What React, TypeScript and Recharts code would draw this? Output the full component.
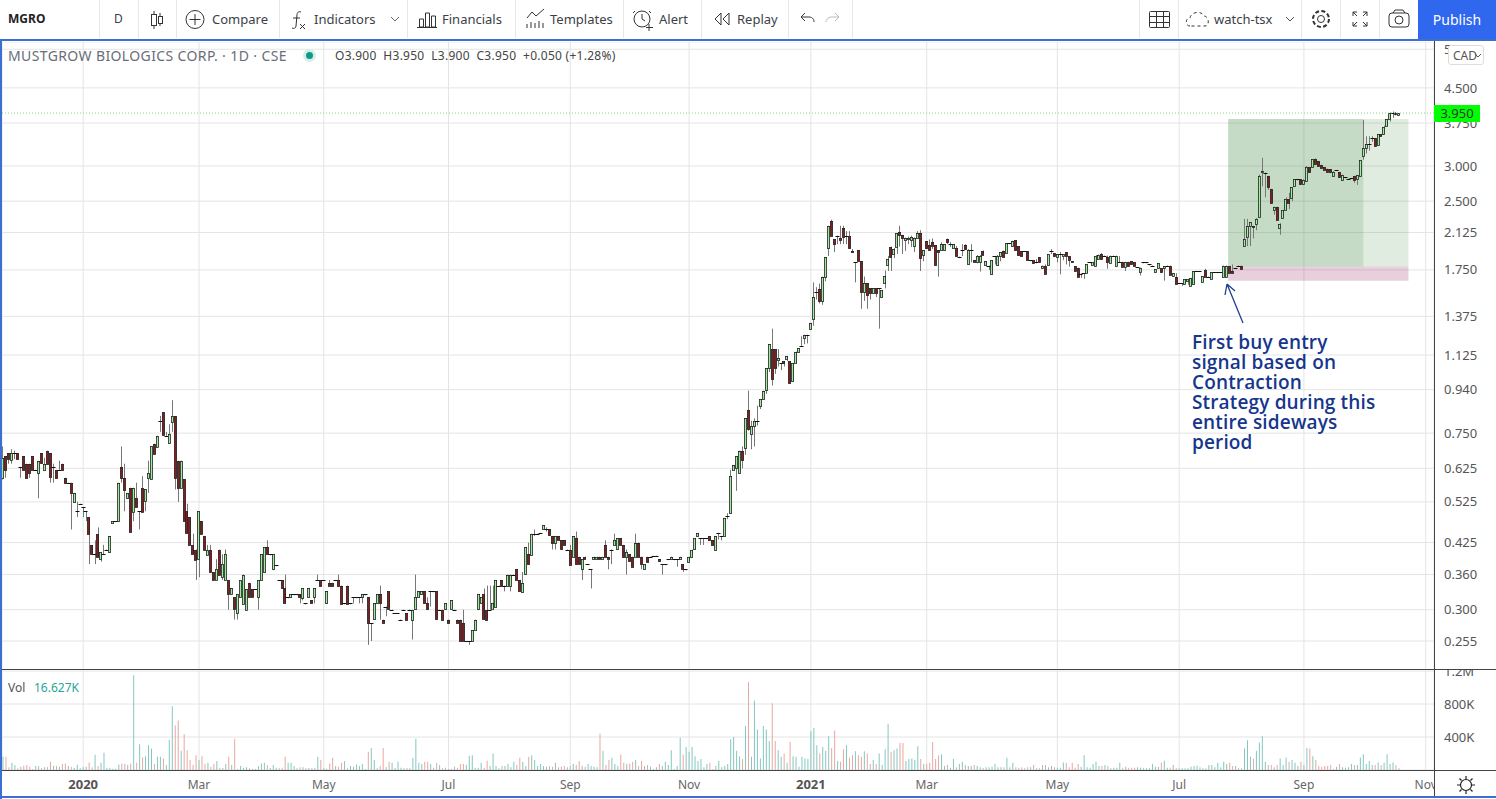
import React from 'react';
import { Bar, BarChart, CartesianGrid, Cell, ComposedChart, ReferenceArea, ReferenceLine, XAxis, YAxis } from 'recharts';

// [open, high, low, close]
const candlesEarly2020 = [
  [.595,.70,.59,.66],[.665,.665,.595,.62],[.675,.675,.64,.655],[.65,.69,.64,.675],[.675,.685,.655,.675],[.675,.675,.655,.655],[.63,.63,.595,.63],[.665,.665,.62,.62],[.64,.64,.595,.595],[.64,.64,.595,.61],
  [.665,.665,.62,.62],[.62,.62,.62,.62],[.61,.65,.535,.65],[.675,.675,.64,.64],[.62,.66,.62,.64],[.685,.685,.64,.64],[.675,.675,.58,.595],[.63,.64,.58,.63],[.62,.62,.595,.595],[.62,.65,.62,.62],
  [.64,.64,.62,.62],[.595,.595,.58,.58],[.58,.58,.58,.58],[.58,.58,.455,.55],[.525,.55,.525,.55],[.50,.525,.485,.50],[.52,.52,.52,.52],[.51,.51,.485,.51],[.50,.50,.475,.50],[.485,.485,.38,.445],
  [.42,.42,.40,.40],[.40,.43,.38,.40],[.445,.46,.395,.395],[.39,.405,.385,.405],[.40,.42,.40,.40],[.41,.41,.41,.41],[.405,.44,.405,.44],[.47,.475,.47,.475],[.475,.475,.475,.475],[.475,.58,.475,.58],
  [.63,.70,.58,.595],[.595,.64,.50,.56],[.535,.55,.535,.55],[.565,.565,.45,.45],[.50,.565,.475,.565],[.535,.58,.51,.51],[.50,.50,.455,.50],[.565,.60,.50,.50],[.525,.56,.50,.56],[.595,.65,.55,.61],
  [.59,.70,.59,.70],[.71,.71,.675,.675],[.70,.74,.70,.74],[.80,.82,.755,.80],[.835,.835,.74,.74],[.74,.755,.74,.74],[.71,.785,.71,.745],[.795,.89,.755,.82],[.82,.82,.56,.595],[.65,.65,.525,.565],
  [.565,.65,.565,.65],[.59,.59,.475,.475],[.50,.52,.445,.445],[.485,.485,.42,.42],[.42,.445,.40,.40],[.41,.41,.35,.39],[.39,.50,.355,.50],[.475,.475,.445,.445],[.44,.44,.41,.41],[.40,.42,.40,.41],
  [.41,.42,.365,.365],[.365,.365,.35,.35],[.35,.39,.35,.37],[.41,.41,.36,.36],[.355,.40,.35,.38],[.35,.41,.35,.40],[.35,.35,.30,.325],[.325,.335,.325,.335],[.32,.32,.285,.30],[.295,.325,.285,.325],
  [.32,.35,.32,.35],[.31,.36,.31,.36],[.30,.334,.30,.334],[.345,.345,.32,.32],[.334,.334,.32,.32],[.334,.334,.334,.334],[.32,.35,.30,.35],[.35,.40,.35,.40],[.365,.415,.365,.415],[.415,.43,.40,.40],
  [.40,.40,.40,.40],[.37,.40,.37,.40],[.378,.378,.378,.378],[.35,.35,.35,.35],[.35,.35,.335,.335],[.335,.36,.31,.31],[.32,.32,.32,.32],[.32,.325,.32,.325],[.325,.325,.325,.325],[.325,.325,.325,.325],
  [.325,.325,.31,.32],
];

const candlesMid2020 = [
  [.318,.335,.315,.335],[.31,.31,.31,.31],[.32,.335,.32,.335],[.315,.315,.31,.31],[.32,.335,.31,.335],[.35,.36,.35,.35],[.35,.35,.34,.34],[.35,.35,.35,.35],[.31,.33,.31,.33],[.345,.35,.34,.34],
  [.345,.345,.34,.34],[.35,.35,.35,.35],[.35,.36,.34,.34],[.34,.34,.31,.31],[.31,.31,.31,.31],[.34,.34,.31,.31],[.31,.31,.31,.31],[.32,.32,.31,.32],[.32,.32,.32,.32],[.32,.32,.31,.32],
  [.32,.325,.31,.325],[.325,.325,.325,.325],[.32,.32,.25,.28],[.28,.28,.255,.28],[.285,.31,.285,.31],[.31,.325,.31,.325],[.325,.34,.285,.31],[.285,.285,.28,.28],[.305,.305,.29,.305],[.33,.33,.30,.30],
  [.30,.30,.30,.30],[.295,.295,.295,.295],[.295,.295,.295,.295],[.285,.285,.285,.285],[.30,.30,.30,.30],[.295,.295,.285,.285],[.30,.30,.30,.30],[.285,.30,.257,.30],[.30,.36,.30,.32],[.32,.33,.32,.33],
  [.325,.33,.325,.33],[.33,.33,.31,.31],[.31,.32,.30,.30],[.33,.33,.305,.33],[.33,.33,.33,.33],[.33,.33,.285,.285],[.30,.30,.30,.30],[.30,.30,.285,.285],[.30,.31,.30,.31],[.285,.285,.28,.28],
  [.30,.315,.30,.315],[.30,.30,.30,.30],[.285,.285,.28,.28],[.285,.285,.255,.255],[.28,.30,.255,.255],[.255,.255,.255,.255],[.255,.255,.25,.255],[.255,.27,.255,.27],[.27,.285,.27,.285],[.30,.325,.30,.325],
  [.31,.32,.31,.32],[.325,.335,.285,.285],[.30,.34,.285,.285],[.30,.34,.30,.30],[.30,.34,.30,.31],[.305,.35,.305,.35],[.34,.34,.34,.34],[.35,.35,.34,.34],[.34,.34,.33,.34],[.34,.36,.34,.36],
  [.34,.36,.33,.36],[.36,.36,.36,.36],[.37,.37,.35,.35],[.35,.35,.33,.33],[.33,.365,.33,.345],[.36,.415,.36,.415],[.40,.425,.38,.38],[.40,.445,.40,.445],[.445,.455,.44,.445],[.445,.445,.445,.445],
  [.447,.447,.447,.447],[.455,.465,.455,.465],[.455,.46,.45,.455],[.455,.455,.44,.44],[.44,.44,.41,.425],[.425,.44,.41,.44],[.44,.44,.43,.43],[.43,.43,.41,.41],[.43,.43,.42,.42],[.41,.41,.41,.41],
  [.41,.42,.38,.38],[.395,.44,.395,.44],[.435,.45,.38,.38],[.395,.395,.38,.38],[.37,.39,.35,.39],[.395,.395,.39,.39],[.38,.38,.38,.38],[.37,.37,.335,.37],[.39,.395,.39,.395],[.39,.395,.39,.395],
  [.395,.395,.39,.39],[.39,.395,.39,.395],[.42,.43,.395,.395],[.395,.395,.37,.39],[.41,.41,.38,.41],[.42,.445,.42,.43],[.41,.435,.41,.435],[.435,.435,.42,.42],[.42,.42,.395,.395],[.395,.41,.36,.405],
  [.40,.40,.385,.385],[.395,.395,.375,.375],[.395,.445,.395,.425],[.425,.425,.395,.395],[.395,.395,.37,.38],[.37,.38,.37,.38],[.395,.395,.385,.385],[.395,.395,.395,.395],[.397,.397,.397,.397],[.397,.397,.397,.397],
  [.39,.39,.385,.385],[.38,.38,.36,.38],[.38,.38,.38,.38],[.39,.39,.39,.39],[.39,.395,.39,.395],[.39,.39,.39,.39],[.39,.39,.375,.39],[.39,.395,.39,.395],[.38,.38,.365,.37],[.37,.37,.37,.37],
  [.385,.395,.385,.395],[.395,.41,.395,.41],[.41,.435,.41,.435],[.44,.447,.44,.447],[.435,.435,.42,.435],[.435,.435,.42,.435],[.435,.435,.435,.435],[.44,.44,.43,.43],[.43,.43,.42,.42],[.41,.44,.41,.44],
];

const candlesRally = [
  [.447,.447,.432,.447],[.44,.44,.43,.44],[.44,.483,.44,.483],[.487,.495,.48,.487],[.495,.62,.495,.60],[.62,.635,.62,.635],[.626,.665,.556,.665],[.61,.685,.61,.685],[.685,.70,.625,.655],[.694,.81,.67,.81],
  [.845,.935,.76,.766],[.747,.80,.69,.78],[.78,.81,.70,.80],[.80,.865,.78,.80],[.865,.895,.85,.895],[.895,.935,.895,.935],[.935,1.05,.92,1.05],[1.05,1.19,1.03,1.19],[1.16,1.29,.96,.995],[1.16,1.16,1.02,1.05],
  [1.095,1.16,1.06,1.105],[1.08,1.08,1.04,1.08],[1.09,1.09,1.06,1.08],[1.105,1.12,1.09,1.12],[1.09,1.09,.97,.97],[.985,1.08,.985,1.08],[1.08,1.145,1.08,1.145],[1.14,1.165,1.14,1.165],[1.18,1.24,1.18,1.18],[1.225,1.25,1.19,1.245],
  [1.25,1.25,1.195,1.25],[1.29,1.33,1.29,1.33],[1.355,1.64,1.31,1.52],[1.56,1.60,1.50,1.56],[1.584,1.63,1.47,1.49],[1.49,1.69,1.46,1.69],[1.69,1.87,1.65,1.87],[1.965,2.2,1.88,2.2],[2.26,2.27,2.09,2.09],[2.05,2.05,1.92,2.0],
  [2.09,2.09,2.0,2.09],[2.07,2.2,2.0,2.05],[2.17,2.2,2.0,2.07],[2.09,2.14,2.0,2.09],[2.09,2.14,1.96,1.965],[1.93,1.95,1.91,1.92],[1.82,1.82,1.64,1.82],[1.94,1.94,1.83,1.83],[1.83,1.83,1.43,1.56],[1.56,1.69,1.49,1.635],
  [1.635,1.635,1.43,1.54],[1.59,1.59,1.5,1.55],[1.55,1.59,1.55,1.59],[1.59,1.59,1.52,1.55],[1.59,1.59,1.29,1.59],[1.52,1.575,1.52,1.575],[1.635,1.745,1.59,1.695],[1.79,1.88,1.74,1.85],[1.975,1.975,1.74,1.875],[1.905,1.96,1.86,1.955],
  [1.975,2.12,1.9,2.12],[2.13,2.2,1.975,2.10],[2.10,2.10,1.9,2.07],[2.05,2.07,1.93,2.07],[2.06,2.08,2.0,2.07],[2.05,2.09,1.97,2.08],[1.99,2.07,1.92,2.07],[2.07,2.14,2.07,2.12],[2.12,2.15,1.74,1.86],[1.89,1.94,1.83,1.94],
  [2.03,2.03,1.95,1.96],[1.99,2.05,1.94,1.94],[2.02,2.06,1.95,1.98],[1.99,1.99,1.79,1.79],[1.94,1.94,1.69,1.92],[1.94,2.02,1.94,2.0],[1.94,2.0,1.94,2.0],[2.05,2.06,2.0,2.02],[2.0,2.02,1.97,2.0],[1.96,2.0,1.96,2.0],
  [1.965,1.98,1.88,1.885],
];

const candlesSideways = [
  [1.875,1.875,1.86,1.875],[1.945,2.0,1.88,1.945],[1.99,2.0,1.945,1.945],[1.81,1.95,1.81,1.945],[1.945,2.0,1.82,1.945],[1.84,1.84,1.82,1.82],[1.82,1.89,1.81,1.88],[1.83,1.89,1.735,1.885],[1.935,1.935,1.895,1.895],[1.79,1.83,1.79,1.83],
  [1.79,1.79,1.75,1.79],[1.71,1.84,1.71,1.84],[1.88,1.88,1.8,1.88],[1.80,1.89,1.80,1.885],[1.88,1.92,1.83,1.92],[1.935,1.935,1.88,1.88],[1.91,2.01,1.91,2.01],[2.01,2.01,2.01,2.01],[1.98,2.035,1.98,2.035],[2.04,2.04,1.935,1.935],
  [1.98,1.98,1.885,1.885],[1.93,1.93,1.885,1.885],[1.93,1.93,1.93,1.93],[1.93,1.93,1.84,1.84],[1.84,1.84,1.84,1.84],[1.84,1.84,1.81,1.81],[1.82,1.85,1.81,1.82],[1.87,1.87,1.825,1.825],[1.77,1.79,1.76,1.79],[1.79,1.8,1.72,1.72],
  [1.79,1.90,1.79,1.90],[1.93,1.95,1.9,1.93],[1.91,1.91,1.87,1.88],[1.87,1.90,1.82,1.90],[1.90,1.92,1.71,1.90],[1.88,1.90,1.84,1.90],[1.92,1.92,1.8,1.88],[1.88,1.88,1.78,1.84],[1.83,1.83,1.82,1.82],[1.785,1.785,1.735,1.735],
  [1.77,1.77,1.69,1.69],[1.71,1.71,1.68,1.71],[1.72,1.72,1.67,1.72],[1.72,1.80,1.72,1.80],[1.82,1.82,1.82,1.82],[1.80,1.825,1.80,1.825],[1.79,1.89,1.79,1.885],[1.86,1.895,1.85,1.895],[1.90,1.91,1.85,1.85],[1.885,1.885,1.885,1.885],
  [1.87,1.885,1.76,1.82],[1.82,1.885,1.82,1.885],[1.885,1.885,1.885,1.885],[1.79,1.885,1.79,1.885],[1.82,1.88,1.82,1.82],[1.825,1.825,1.775,1.775],[1.775,1.825,1.74,1.825],[1.825,1.825,1.785,1.785],[1.83,1.83,1.80,1.80],[1.82,1.82,1.785,1.785],
  [1.775,1.775,1.775,1.775],[1.73,1.77,1.70,1.77],[1.82,1.82,1.82,1.82],[1.82,1.82,1.82,1.82],[1.80,1.80,1.80,1.80],[1.79,1.79,1.79,1.79],[1.725,1.755,1.725,1.755],[1.765,1.81,1.765,1.81],[1.765,1.765,1.725,1.725],[1.765,1.785,1.655,1.785],
  [1.79,1.79,1.79,1.79],[1.79,1.79,1.705,1.705],[1.695,1.72,1.695,1.72],[1.69,1.72,1.63,1.63],[1.635,1.635,1.635,1.635],[1.635,1.635,1.61,1.635],[1.63,1.67,1.63,1.67],[1.655,1.67,1.62,1.67],[1.615,1.68,1.61,1.68],[1.625,1.74,1.62,1.74],
  [1.74,1.74,1.74,1.74],[1.74,1.74,1.74,1.74],[1.645,1.695,1.645,1.695],[1.75,1.76,1.69,1.69],[1.69,1.69,1.69,1.69],[1.67,1.73,1.67,1.73],[1.73,1.73,1.73,1.73],[1.73,1.73,1.73,1.73],[1.73,1.73,1.73,1.73],[1.695,1.79,1.695,1.79],
  [1.695,1.79,1.695,1.79],[1.785,1.785,1.72,1.725],[1.74,1.80,1.72,1.72],[1.77,1.77,1.77,1.77],[1.79,1.79,1.79,1.79],[1.79,1.79,1.765,1.765],
];

const candlesBreakout = [
  [1.98,2.28,1.98,2.05],[2.08,2.28,1.98,2.2],[2.19,2.24,1.98,2.24],[2.2,2.2,2.06,2.19],[2.22,2.29,2.15,2.28],[2.30,2.87,2.30,2.85],[2.90,3.13,2.7,2.92],[2.90,2.90,2.55,2.90],[2.85,2.85,2.65,2.69],[2.665,2.665,2.47,2.48],
  [2.39,2.43,2.33,2.43],[2.43,2.43,2.27,2.27],[2.18,2.23,2.1,2.22],[2.29,2.39,2.29,2.39],[2.39,2.55,2.39,2.53],[2.53,2.61,2.4,2.48],[2.535,2.69,2.5,2.69],[2.70,2.8,2.70,2.80],[2.80,2.80,2.80,2.80],[2.80,2.80,2.72,2.73],
  [2.73,2.80,2.73,2.79],[2.77,3.0,2.77,2.98],[2.98,2.98,2.90,2.90],[2.99,3.11,2.99,3.11],[3.11,3.12,3.03,3.03],[3.08,3.08,3.0,3.0],[3.02,3.02,2.96,2.97],[2.98,2.98,2.93,2.93],[2.96,2.96,2.91,2.91],[2.95,2.95,2.89,2.90],
  [2.85,2.92,2.85,2.91],[2.94,2.94,2.94,2.94],[2.91,2.91,2.82,2.84],[2.80,2.87,2.80,2.87],[2.83,2.83,2.83,2.83],[2.81,2.81,2.81,2.81],[2.82,2.82,2.82,2.82],[2.85,2.85,2.75,2.79],[2.80,2.86,2.72,2.86],[2.85,3.09,2.85,3.09],
  [3.16,3.81,3.1,3.30],[3.30,3.5,3.2,3.37],[3.37,3.5,3.25,3.37],[3.47,3.5,3.4,3.47],[3.47,3.47,3.33,3.33],[3.35,3.54,3.35,3.54],[3.54,3.54,3.5,3.5],[3.55,3.7,3.55,3.68],[3.70,3.83,3.70,3.83],[3.83,3.96,3.78,3.95],
  [3.96,3.98,3.85,3.96],[3.95,3.97,3.9,3.92],[3.90,3.95,3.90,3.95],
];

// volume per session, in thousands
const volumesEarly = [
  160,160,32,88,60,20,40,52,60,40,12,48,44,24,32,36,100,52,48,40,72,80,48,40,28,64,20,32,40,92,32,184,48,88,208,28,24,16,16,68,80,72,60,80,1148,88,312,152,168,300,260,
  72,160,160,140,60,368,772,540,600,232,432,240,120,60,180,120,168,72,88,40,72,108,28,24,72,160,60,380,12,48,28,32,20,12,12,48,80,88,60,24,60,28,20,28,160,88,88,48,20,32,
  32,20,24,24,28,160,120,24,16,80,148,48,40,88,108,20,48,40,68,48,72,12,220,268,120,20,48,268,32,100,88,24,100,28,20,24,20,148,380,88,72,100,100,72,28,88,60,20,28,12,
  12,40,28,72,72,60,172,180,28,28,88,28,112,48,200,48,
];
const volumesMiddle = [
  20,48,48,72,32,100,60,148,100,48,160,180,120,48,72,48,40,48,40,88,32,40,48,32,48,72,60,108,48,40,72,48,40,32,440,232,60,120,148,72,48,188,88,72,80,100,120,48,108,48,
  60,40,12,32,72,48,100,60,240,12,48,392,188,280,220,280,168,108,132,32,72,88,12,48,112,32,48,72,372,400,232,168,132,532,1068,160,840,492,140,532,492,348,808,352,240,160,200,88,340,168,
  160,40,160,140,132,472,508,300,200,280,232,408,268,480,108,100,252,300,148,180,228,180,160,228,200,72,120,72,200,60,252,560,220,240,260,328,328,108,132,140,120,288,132,72,72,88,340,132,180,192,
  48,60,28,132,32,72,100,60,48,48,60,48,32,24,32,32,40,72,32,
];
const volumesLate = [
  32,32,148,32,88,32,28,32,20,32,32,60,20,20,60,60,32,48,32,28,28,92,88,32,88,28,72,40,180,32,28,72,100,48,48,60,48,20,28,28,88,28,40,28,28,28,32,28,20,20,
  20,72,40,40,88,112,28,28,60,28,20,20,20,20,40,48,52,32,20,20,60,60,32,88,32,100,72,88,48,48,20,20,260,360,160,140,232,332,408,100,60,60,32,60,140,60,152,100,120,88,
  48,100,60,268,260,168,120,48,40,48,48,60,12,40,72,32,28,32,72,60,60,152,192,72,108,60,60,92,60,88,192,72,92,60,20,
];

const priceTicks = [5.5, 4.5, 3.75, 3, 2.5, 2.125, 1.75, 1.375, 1.125, 0.94, 0.75, 0.625, 0.525, 0.425, 0.36, 0.3, 0.255];
const volumeTicks = [400000, 800000, 1200000];
const monthTicks = [27, 66, 108, 150, 191, 231, 272, 311, 355, 396, 438, 479];
const monthLabels = ['2020', 'Mar', 'May', 'Jul', 'Sep', 'Nov', '2021', 'Mar', 'May', 'Jul', 'Sep', 'Nov'];
const noteLines = ['First buy entry', 'signal based on', 'Contraction', 'Strategy during this', 'entire sideways', 'period'];

const candles = [...candlesEarly2020, ...candlesMid2020, ...candlesRally, ...candlesSideways, ...candlesBreakout];
const volumes = [...volumesEarly, ...volumesMiddle, ...volumesLate];

const priceRows = candles.map(([open, high, low, close], t) => ({
  t, open, high, low, close,
  wick: [low, high],
  body: [Math.min(open, close), Math.max(open, close)],
}));
const volumeRows = volumes.map((v, t) => {
  const c = candles[t];
  return { t, volume: v * 1000, up: c ? c[3] >= c[0] : true };
});

const xDomain = [-0.33, 481.8];
const yDomain = [0.2194, 5.71];
const FONT = '"Noto Sans", sans-serif';
const GRID = '#e4e4e4';

const Wick = (props: any) => {
  const { x, y, height } = props;
  return <rect x={Math.round(x)} y={y} width={1} height={Math.max(height, 1)} fill="#777" />;
};

const Body = (props: any) => {
  const { x, width, y, height, payload } = props;
  const left = Math.round(x + width / 2 - 1.5);
  if (payload.open === payload.close) {
    return <rect x={left - 0.5} y={Math.round(y)} width={4} height={1} fill="#111" />;
  }
  const up = payload.close >= payload.open;
  return (
    <rect
      x={left + 0.4}
      y={Math.round(y) + 0.4}
      width={2.2}
      height={Math.max(Math.round(height), 1)}
      fill={up ? '#9cf09c' : '#8b1a1a'}
      stroke="#222"
      strokeWidth={0.8}
    />
  );
};

const MonthTick = (props: any) => {
  const { x, y, payload } = props;
  const label = monthLabels[monthTicks.indexOf(payload.value)];
  const isYear = label.length === 4;
  return (
    <text x={x} y={y + 11} textAnchor="middle" fontFamily={FONT} fontSize={isYear ? 13 : 12} fontWeight={isYear ? 700 : 400} fill={isYear ? '#555' : '#666'}>
      {label}
    </text>
  );
};

const Txt = ({ x, y, children, size = 14, color = '#3c3f47', weight = 400, spacing = 0 }: any) => (
  <span style={{ position: 'absolute', left: x, top: y, fontSize: size, color, fontWeight: weight, letterSpacing: spacing, lineHeight: '20px', whiteSpace: 'pre', fontFamily: FONT }}>{children}</span>
);

const Sep = ({ x }: { x: number }) => <div style={{ position: 'absolute', left: x, top: 0, width: 1, height: 38, background: '#e6e6e6' }} />;

const toolbarSeps = [99, 138, 176, 279, 407, 515, 623, 701, 788, 852, 1139, 1178, 1301, 1340, 1379];

const Icons = () => (
  <svg width={1496} height={38} style={{ position: 'absolute', left: 0, top: 0 }} fill="none" stroke="#333" strokeWidth={1}>
    <path d="M154 11v3M154 26v3M160 13v3M160 23v3" />
    <rect x="151.5" y="14.5" width="5" height="11" /><rect x="158.5" y="16.5" width="4" height="7" />
    <circle cx="195" cy="19.5" r="9" /><path d="M195 14v11M189.5 19.5h11" />
    <path d="M301 12c-3-1-4 1-4 3l-1 11c0 2-2 3-4 2M293 18h7M300 24l5 5M305 24l-5 5" />
    <path d="M391 17l4 4 4-4" stroke="#666" />
    <path d="M419.5 27V19h4v8zM425.5 27V13h4v14zM431.5 27V16h4v11zM417 27.5h20" />
    <path d="M527 18l5-6 4 4 8-7M527 28v-4M531 28v-6M535 28v-5M539 28v-7M543 28v-5" />
    <circle cx="642" cy="19" r="8" /><path d="M642 14v5l3 2M635 11l-2 2M649 11l2 2M649 24v7M646 27.5h7" />
    <path d="M721 13l-6 6 6 6zM729 13l-6 6 6 6z" />
    <path d="M801 17h8c4 0 5 3 5 5M801 17l4-4M801 17l4 4" />
    <path d="M839 17h-8c-3 0-5 3-5 5M839 17l-4-4M839 17l-4 4" stroke="#bbb" />
    <rect x="1149.5" y="11.5" width="20" height="16" rx="1" /><path d="M1149 16.500h20M1149 22.500h20M1156.500 11v16M1163.500 11v16" />
    <path d="M1190 26c-5 0-5-8 0-8 1-6 11-8 14-2 5 0 6 10 1 10z" strokeDasharray="3 3" />
    <path d="M1286 17l4 4 4-4" stroke="#555" />
    <circle cx="1321" cy="19" r="3.500" /><circle cx="1321" cy="19" r="8" strokeDasharray="4 2.300" strokeWidth={2} />
    <path d="M1353 16v-4h4M1367 16v-4h-4M1353 22v4h4M1367 22v4h-4M1353 12l4 4M1367 12l-4 4M1353 26l4-4M1367 26l-4-4" />
    <rect x="1389" y="13" width="20" height="14" rx="3" /><circle cx="1399" cy="20" r="4" /><path d="M1393 13l2-3h8l2 3" />
  </svg>
);

const App: React.FC = () => {
  return (
    <div style={{ position: 'fixed', left: 0, top: 0, width: 1496, height: 799, overflow: 'hidden', background: '#fff', fontFamily: FONT }}>
      <div style={{ position: 'absolute', left: 2, top: 42 }}>
        <ComposedChart width={1494} height={628} data={priceRows} margin={{ top: 0, right: 0, bottom: 0, left: 0 }}>
          <XAxis xAxisId="wick" dataKey="t" type="number" domain={xDomain} allowDataOverflow ticks={monthTicks} hide />
          <XAxis xAxisId="body" dataKey="t" type="number" domain={xDomain} allowDataOverflow ticks={monthTicks} hide />
          <YAxis
            yAxisId="price"
            orientation="right"
            width={62}
            scale="log"
            domain={yDomain}
            allowDataOverflow
            ticks={priceTicks}
            interval={0}
            tickFormatter={(v: number) => v.toFixed(3)}
            tick={{ fontSize: 13, fill: '#555', fontFamily: FONT }}
            tickLine={false}
            axisLine={false}
            tickMargin={4}
          />
          <CartesianGrid xAxisId="body" yAxisId="price" stroke={GRID} strokeWidth={1} />
          <ReferenceArea xAxisId="body" yAxisId="price" x1={412.5} x2={473.2} y1={1.78} y2={3.83} fill="#2e7d32" fillOpacity={0.15} stroke="none" />
          <ReferenceArea xAxisId="body" yAxisId="price" x1={412.5} x2={458} y1={1.78} y2={3.83} fill="#2e7d32" fillOpacity={0.15} stroke="none" />
          <ReferenceArea xAxisId="body" yAxisId="price" x1={412.5} x2={473.2} y1={1.654} y2={1.78} fill="#880e4f" fillOpacity={0.2} stroke="none" />
          <ReferenceLine xAxisId="body" yAxisId="price" y={3.95} stroke="#7ddc7d" strokeDasharray="1 2" />
          <Bar xAxisId="wick" yAxisId="price" dataKey="wick" barSize={1} shape={Wick} isAnimationActive={false} />
          <Bar xAxisId="body" yAxisId="price" dataKey="body" barSize={3} shape={Body} isAnimationActive={false} />
        </ComposedChart>
      </div>

      <div style={{ position: 'absolute', left: 2, top: 670 }}>
        <BarChart width={1494} height={127} data={volumeRows} margin={{ top: 1, right: 0, bottom: 0, left: 0 }}>
          <XAxis
            dataKey="t"
            type="number"
            domain={xDomain}
            allowDataOverflow
            ticks={monthTicks}
            interval={0}
            height={27}
            axisLine={false}
            tickLine={false}
            tick={MonthTick}
          />
          <YAxis
            orientation="right"
            width={62}
            domain={[0, 1200000]}
            allowDataOverflow
            ticks={volumeTicks}
            interval={0}
            tickFormatter={(v: number) => (v >= 1000000 ? `${v / 1000000}M` : `${v / 1000}K`)}
            tick={{ fontSize: 13, fill: '#555', fontFamily: FONT }}
            tickLine={false}
            axisLine={false}
            tickMargin={4}
          />
          <CartesianGrid stroke={GRID} strokeWidth={1} />
          <Bar dataKey="volume" barSize={1} isAnimationActive={false}>
            {volumeRows.map((r) => (
              <Cell key={r.t} fill={r.up ? '#84c7c0' : '#e8a7a0'} />
            ))}
          </Bar>
        </BarChart>
      </div>

      {/* frame and pane dividers */}
      <div style={{ position: 'absolute', left: 1435, top: 771, width: 61, height: 26, background: '#fff' }} />
      <div style={{ position: 'absolute', left: 2, top: 669, width: 1494, height: 1, background: '#444' }} />
      <div style={{ position: 'absolute', left: 2, top: 770, width: 1494, height: 1, background: '#444' }} />
      <div style={{ position: 'absolute', left: 1434, top: 41, width: 1, height: 756, background: '#444' }} />
      <div style={{ position: 'absolute', left: 0, top: 39, width: 1496, height: 2, background: '#3b6fd4' }} />
      <div style={{ position: 'absolute', left: 0, top: 39, width: 2, height: 760, background: '#3b6fd4' }} />
      <div style={{ position: 'absolute', left: 0, top: 796, width: 1496, height: 2, background: '#3b6fd4' }} />

      {/* toolbar */}
      {toolbarSeps.map((x) => <Sep key={x} x={x} />)}
      <Icons />
      <Txt x={8} y={9} size={12} weight={700} color="#222">MGRO</Txt>
      <Txt x={114} y={9} size={12}>D</Txt>
      <Txt x={212} y={9} size={13}>Compare</Txt>
      <Txt x={314} y={9} size={13}>Indicators</Txt>
      <Txt x={442} y={9} size={13}>Financials</Txt>
      <Txt x={550} y={9} size={13}>Templates</Txt>
      <Txt x={659} y={9} size={13}>Alert</Txt>
      <Txt x={737} y={9} size={13}>Replay</Txt>
      <Txt x={1214} y={9} size={13}>watch-tsx</Txt>
      <div style={{ position: 'absolute', left: 1418, top: 0, width: 78, height: 39, background: '#2f67ee', color: '#fff', fontSize: 14, textAlign: 'center', lineHeight: '39px' }}>Publish</div>

      {/* legend */}
      <Txt x={8} y={46} size={14} color="#6a6d78" spacing={0.38}>MUSTGROW BIOLOGICS CORP. · 1D · CSE</Txt>
      <div style={{ position: 'absolute', left: 303, top: 49, width: 13, height: 13, borderRadius: 7, background: '#d6eeea' }} />
      <div style={{ position: 'absolute', left: 306, top: 52, width: 7, height: 7, borderRadius: 4, background: '#0d9a86' }} />
      <Txt x={335} y={46} size={12} color="#444" spacing={0.26}>O3.900  H3.950  L3.900  C3.950  +0.050 (+1.28%)</Txt>
      <Txt x={8} y={678} size={12} color="#555">Vol</Txt>
      <Txt x={34} y={678} size={12} color="#26a69a">16.627K</Txt>

      {/* price axis extras */}
      <div style={{ position: 'absolute', left: 1448, top: 45, width: 36, height: 20, border: '1px solid #ddd', borderRadius: 3, background: '#fff', fontSize: 12, color: '#555', lineHeight: '20px', paddingLeft: 4, boxSizing: 'border-box', whiteSpace: 'pre' }}>CAD</div>
      <svg width={8} height={6} style={{ position: 'absolute', left: 1474, top: 53 }} fill="none" stroke="#555" strokeWidth={1}>
        <path d="M1 1l3 3 3-3" />
      </svg>
      <div style={{ position: 'absolute', left: 1434, top: 105, width: 46, height: 17, background: '#00ff00', color: '#333', fontSize: 13, lineHeight: '17px', textAlign: 'center' }}>3.950</div>

      {/* annotation */}
      <svg width={1496} height={799} style={{ position: 'absolute', left: 0, top: 0, pointerEvents: 'none' }} fill="none" stroke="#1f3f8f" strokeWidth={1.3}>
        <path d="M1243 323L1227 284M1227 284L1225 295M1227 284L1235 291" />
      </svg>
      {noteLines.map((line, i) => (
        <div key={line} style={{ position: 'absolute', left: 1192, top: 332 + i * 20, fontSize: 19, fontWeight: 600, letterSpacing: 0.15, lineHeight: '20px', color: '#16368c', fontFamily: '"Open Sans", sans-serif', whiteSpace: 'pre' }}>{line}</div>
      ))}

      {/* gear in the corner */}
      <svg width={24} height={24} style={{ position: 'absolute', left: 1454, top: 773 }} fill="none" stroke="#222" strokeWidth={1.2}>
        <circle cx="12" cy="12" r="5.500" />
        <path d="M12 3v3M12 18v3M3 12h3M18 12h3M5.500 5.500l2 2M16.500 16.500l2 2M5.500 18.500l2-2M16.500 7.500l2-2" />
      </svg>
    </div>
  );
};

export default App;
